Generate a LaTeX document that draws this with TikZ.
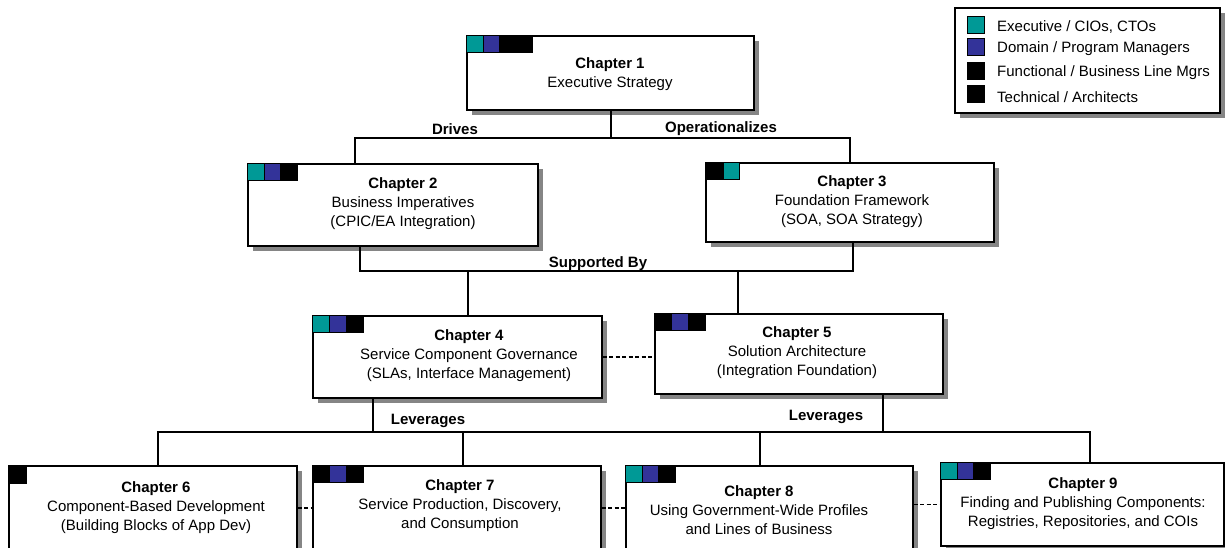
\documentclass[tikz,border=0pt]{standalone}
\usepackage{fontspec}
\setmainfont{Liberation Sans}
\definecolor{execcol}{RGB}{0,153,150}
\definecolor{progcol}{RGB}{51,51,153}
\definecolor{funccol}{RGB}{0,0,0}
\definecolor{techcol}{RGB}{0,0,0}
\usetikzlibrary{positioning, shadows}

\begin{document}
\begin{tikzpicture}[x=1pt, y=-1pt, font=\fontsize{15}{19}\selectfont,
  chapbox/.style={draw, fill=white, line width=1.3pt, inner sep=0pt, drop shadow={shadow xshift=5pt, shadow yshift=-5pt, fill=black!48, opacity=1}},
  chaptext/.style={align=center, inner sep=0pt},
  tag/.style={draw=black, line width=0.5pt, fill=white, inner sep=0pt, minimum size=16.5pt, anchor=north west},
  link/.style={line width=2.7pt},
  dotlink/.style={line width=1.3pt, dash pattern=on 4pt off 2.5pt},
  edgelbl/.style={font=\fontsize{15}{19}\selectfont\bfseries, inner sep=0pt}]
\clip (0,0) rectangle (1225,548);

% Legend
\node[chapbox, minimum width=265pt, minimum height=105pt] (legend) at (1087.5,60.5) {};
\node[tag, anchor=center, minimum size=17pt, fill=execcol] (key1) at (976,25) {};
\node[tag, anchor=center, minimum size=17pt, fill=progcol] (key2) at (976,47) {};
\node[tag, anchor=center, minimum size=17pt, fill=funccol] (key3) at (976,71) {};
\node[tag, anchor=center, minimum size=17pt, fill=techcol] (key4) at (976,94) {};
\node[anchor=west, inner sep=0pt] (keytext1) at (997,27) {Executive / CIOs, CTOs};
\node[anchor=west, inner sep=0pt] (keytext2) at (997,49) {Domain / Program Managers};
\node[anchor=west, inner sep=0pt] (keytext3) at (997,73) {Functional / Business Line Mgrs};
\node[anchor=west, inner sep=0pt] (keytext4) at (997,97) {Technical / Architects};

% Chapter boxes
\node[chapbox, minimum width=287pt, minimum height=74pt] (ch1) at (610.5,73) {};
\node[chapbox, minimum width=290pt, minimum height=82pt] (ch2) at (393,205) {};
\node[chapbox, minimum width=288pt, minimum height=79pt] (ch3) at (850,202.5) {};
\node[chapbox, minimum width=289pt, minimum height=82pt] (ch4) at (457.5,357) {};
\node[chapbox, minimum width=288pt, minimum height=80pt] (ch5) at (799,354) {};
\node[chapbox, minimum width=288pt, minimum height=84pt] (ch6) at (153,508) {};
\node[chapbox, minimum width=288pt, minimum height=84pt] (ch7) at (457,508) {};
\node[chapbox, minimum width=287pt, minimum height=84pt] (ch8) at (769.5,508) {};
\node[chapbox, minimum width=283pt, minimum height=83pt] (ch9) at (1082.5,504.5) {};

% Audience tags
\foreach \c [count=\i from 0] in {execcol,progcol,funccol,techcol}
  \node[tag, fill=\c] (ch1-\i) at ([xshift=\i*16.5]ch1.north west) {};
\foreach \c [count=\i from 0] in {execcol,progcol,techcol}
  \node[tag, fill=\c] (ch2-\i) at ([xshift=\i*16.5]ch2.north west) {};
\foreach \c [count=\i from 0] in {techcol,execcol}
  \node[tag, fill=\c] (ch3-\i) at ([xshift=\i*17.5]ch3.north west) {};
\foreach \c [count=\i from 0] in {execcol,progcol,techcol}
  \node[tag, fill=\c] (ch4-\i) at ([xshift=\i*17]ch4.north west) {};
\foreach \c [count=\i from 0] in {techcol,progcol,techcol}
  \node[tag, fill=\c] (ch5-\i) at ([xshift=\i*17]ch5.north west) {};
\node[tag, fill=techcol, minimum size=18pt] (ch6-0) at (ch6.north west) {};
\foreach \c [count=\i from 0] in {techcol,progcol,techcol}
  \node[tag, fill=\c] (ch7-\i) at ([xshift=\i*17]ch7.north west) {};
\foreach \c [count=\i from 0] in {execcol,progcol,techcol}
  \node[tag, fill=\c] (ch8-\i) at ([xshift=\i*16.5]ch8.north west) {};
\foreach \c [count=\i from 0] in {execcol,progcol,techcol}
  \node[tag, fill=\c] (ch9-\i) at ([xshift=\i*16.5]ch9.north west) {};

% Chapter texts
\node[chaptext] (t1) at (610,74) {\textbf{Chapter 1}\\Executive Strategy};
\node[chaptext] (t2) at (403,204) {\textbf{Chapter 2}\\Business Imperatives\\(CPIC/EA Integration)};
\node[chaptext] (t3) at (852,201.5) {\textbf{Chapter 3}\\Foundation Framework\\(SOA, SOA Strategy)};
\node[chaptext] (t4) at (469,356) {\textbf{Chapter 4}\\Service Component Governance\\(SLAs, Interface Management)};
\node[chaptext] (t5) at (797,353) {\textbf{Chapter 5}\\Solution Architecture\\(Integration Foundation)};
\node[chaptext] (t6) at (156,508) {\textbf{Chapter 6}\\Component-Based Development\\(Building Blocks of App Dev)};
\node[chaptext] (t7) at (460,505.5) {\textbf{Chapter 7}\\Service Production, Discovery,\\and Consumption};
\node[chaptext] (t8) at (759,510) {\textbf{Chapter 8}\\Using Government-Wide Profiles\\and Lines of Business};
\node[chaptext] (t9) at (1083,503.5) {\textbf{Chapter 9}\\Finding and Publishing Components:\\Registries, Repositories, and COIs};

% Junctions
\coordinate (d1) at (611,138);
\coordinate (d2) at (355,138);
\coordinate (d3) at (850,138);
\coordinate (s2) at (360,271);
\coordinate (s3) at (853,271);
\coordinate (s4) at (468,271);
\coordinate (s5) at (738,271);
\coordinate (l4) at (373,432);
\coordinate (l5) at (883,432);
\coordinate (l6) at (158,432);
\coordinate (l7) at (463,432);
\coordinate (l8) at (760,432);
\coordinate (l9) at (1090,432);

% Connectors
\draw[link] (d1 |- ch1.south) -- (d1);
\draw[link] (d2 |- ch2.north) -- (d2) -- (d3) -- (d3 |- ch3.north);
\draw[link] (s2 |- ch2.south) -- (s2) -- (s3) -- (s3 |- ch3.south);
\draw[link] (s4) -- (s4 |- ch4.north);
\draw[link] (s5) -- (s5 |- ch5.north);
\draw[link] (l6 |- ch6.north) -- (l6) -- (l9) -- (l9 |- ch9.north);
\draw[link] (l4 |- ch4.south) -- (l4);
\draw[link] (l5 |- ch5.south) -- (l5);
\draw[link] (l7) -- (l7 |- ch7.north);
\draw[link] (l8) -- (l8 |- ch8.north);

\draw[dotlink] (ch4.east) -- (ch4.east -| ch5.west);
\draw[dotlink] (ch6.east) -- (ch7.west);
\draw[dotlink] (ch7.east) -- (ch8.west);
\draw[dotlink] (ch9.west -| ch8.east) -- (ch9.west);

% Connector labels
\node[edgelbl] (drives) at (455,129) {Drives};
\node[edgelbl] (oper) at (721,129) {Operationalizes};
\node[edgelbl] (supby) at (598,264) {Supported By};
\node[edgelbl] (lev1) at (428,421) {Leverages};
\node[edgelbl] (lev2) at (826,417) {Leverages};
\end{tikzpicture}
\end{document}
